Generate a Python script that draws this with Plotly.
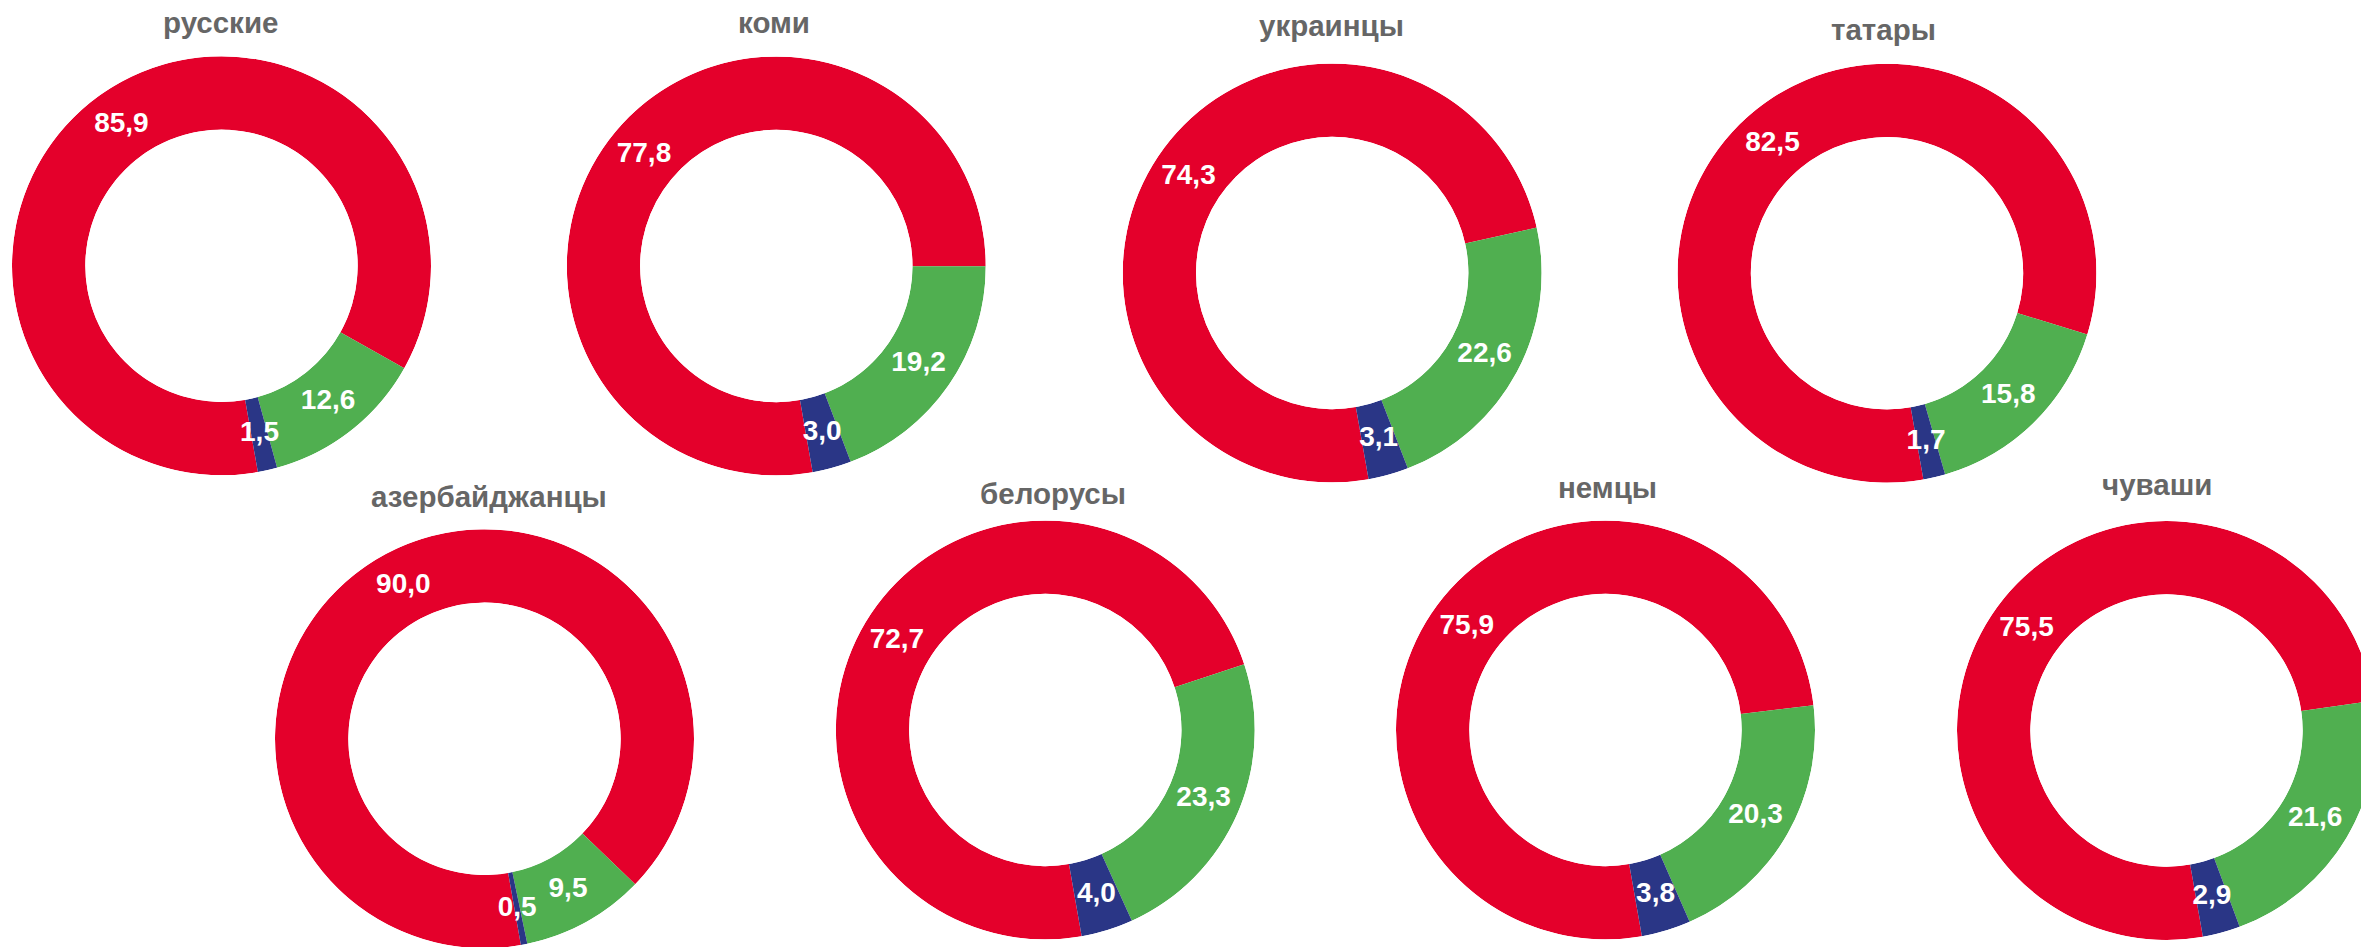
import plotly.graph_objects as go

# ---- data -------------------------------------------------------------
groups = ["русские", "коми", "украинцы", "татары",
          "азербайджанцы", "белорусы", "немцы", "чуваши"]
red_vals = [85.9, 77.8, 74.3, 82.5, 90.0, 72.7, 75.9, 75.5]
green_vals = [12.6, 19.2, 22.6, 15.8, 9.5, 23.3, 20.3, 21.6]
blue_vals = [1.5, 3.0, 3.1, 1.7, 0.5, 4.0, 3.8, 2.9]

# ---- layout / style ---------------------------------------------------
W, H = 2380, 950          # canvas slightly larger than the window: last ring is cut by the edge
R = 209.5
HOLE = 0.65
centers = [(221.5, 265.8), (776.3, 266.0), (1332.2, 273.0), (1887.0, 273.2),
           (484.5, 738.8), (1045.3, 730.0), (1605.5, 730.0), (2166.5, 730.5)]
title_pos = [(220.0, 23.0), (774.0, 23.0), (1331.3, 25.5), (1883.3, 29.0),
             (489.0, 496.0), (1052.5, 493.5), (1607.0, 487.0), (2157.0, 484.0)]
COLORS = ["#E4002B", "#50AF50", "#2A3686"]
FONT = "Liberation Sans, Arial, sans-serif"

fig = go.Figure()
layout_polars = {}
annotations = []

for i, g in enumerate(groups):
    vals = [red_vals[i], green_vals[i], blue_vals[i]]
    total = sum(vals)
    widths = [v / total * 360.0 for v in vals]
    mids, acc = [], 0.0
    for w in widths:
        mids.append(acc + w / 2.0)
        acc += w
    pid = "polar" if i == 0 else f"polar{i + 1}"
    fig.add_trace(go.Barpolar(
        r=[1, 1, 1], theta=mids, width=widths,
        marker=dict(color=COLORS, line=dict(width=0)),
        subplot=pid, hoverinfo="skip", showlegend=False))
    fig.add_trace(go.Scatterpolar(
        r=[0.5, 0.5, 0.5], theta=mids, mode="text",
        text=[f"{v:.1f}".replace(".", ",") for v in vals],
        textfont=dict(color="white", size=28, family=FONT, weight="bold"),
        subplot=pid, hoverinfo="skip", showlegend=False, cliponaxis=False))

    cx, cy = centers[i]
    x0 = max(0.0, (cx - R) / W)
    x1 = min(1.0, (cx + R) / W)
    y0 = max(0.0, 1 - (cy + R) / H)
    y1 = min(1.0, 1 - (cy - R) / H)
    layout_polars[pid] = dict(
        domain=dict(x=[x0, x1], y=[y0, y1]),
        hole=HOLE,
        bgcolor="rgba(0,0,0,0)",
        radialaxis=dict(range=[0, 1], visible=False, showgrid=False),
        angularaxis=dict(visible=False, showgrid=False,
                         direction="clockwise", rotation=-80),
    )
    tx, ty = title_pos[i]
    annotations.append(dict(
        text=g, x=tx / W, y=1 - ty / H, xref="paper", yref="paper",
        xanchor="center", yanchor="middle", showarrow=False,
        font=dict(size=29.5, color="#666666", family=FONT, weight="bold")))

fig.update_layout(
    width=W, height=H,
    margin=dict(l=0, r=0, t=0, b=0),
    paper_bgcolor="white", plot_bgcolor="white",
    showlegend=False,
    annotations=annotations,
    **layout_polars,
)

fig.write_html(
    "out.html",
    config={"displayModeBar": False},
    post_script="document.body.style.margin='0';"
                "document.body.style.overflow='hidden';"
                "document.documentElement.style.overflow='hidden';",
)
